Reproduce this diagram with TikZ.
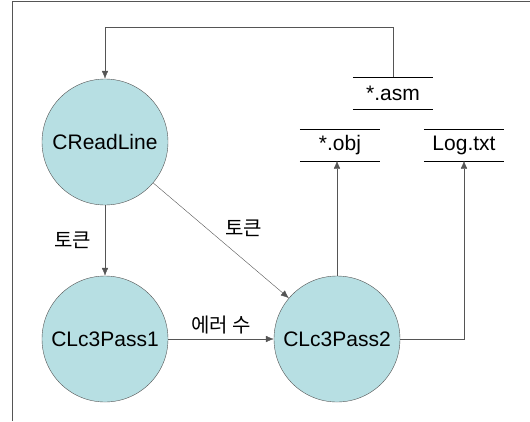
\documentclass[tikz,border=0pt]{standalone}
\usepackage{fontspec}
\setmainfont{Liberation Sans}
\newfontfamily\kr{Noto Sans CJK KR}
\usetikzlibrary{arrows.meta,positioning}

\definecolor{classfill}{RGB}{183,223,227}
\definecolor{edgegray}{RGB}{85,85,85}

\tikzset{
  klass/.style={circle, draw=edgegray, fill=classfill, minimum size=126pt,
    inner sep=0pt, font=\fontsize{21}{25}\selectfont},
  datafile/.style={minimum width=80pt, minimum height=31pt, inner sep=0pt,
    font=\fontsize{21}{25}\selectfont},
  flow/.style={draw=edgegray, -{Latex[length=8pt,width=6.5pt]}},
  lbl/.style={font=\kr\fontsize{20}{23}\selectfont, inner sep=2pt}
}

\begin{document}
\begin{tikzpicture}[x=1pt,y=-1pt]
  \useasboundingbox (0,0) rectangle (530,421);

  % frame around the figure
  \draw[edgegray] (12,421) -- (12,1.5) -- (530,1.5);

  % classes
  \node[klass] (rl) at (105,142) {CReadLine};
  \node[klass] (p1) at (105,339) {CLc3Pass1};
  \node[klass] (p2) at (337,339) {CLc3Pass2};

  % files
  \node[datafile] (asm) at (393,93) {*.asm};
  \node[datafile] (obj) at (340,145) {*.obj};
  \node[datafile] (log) at (464,145) {Log.txt};
  \foreach \f in {asm,obj,log}{
    \draw[black] (\f.north west) -- (\f.north east);
    \draw[black] (\f.south west) -- (\f.south east);
  }

  % data flow
  \draw[flow] (asm.north) -- ++(0,-50) -| (rl);
  \draw[flow] (rl) -- node[lbl, left=12pt] (t1) {토큰} (p1);
  \draw[flow] (rl) -- node[lbl, above right=2pt and 2pt] (t2) {토큰} (p2);
  \draw[flow] (p1) -- node[lbl, above=3pt] (err) {에러 수} (p2);
  \draw[flow] (p2) -- (p2 |- obj.south);
  \draw[flow] (p2) -| (log);

\end{tikzpicture}
\end{document}
